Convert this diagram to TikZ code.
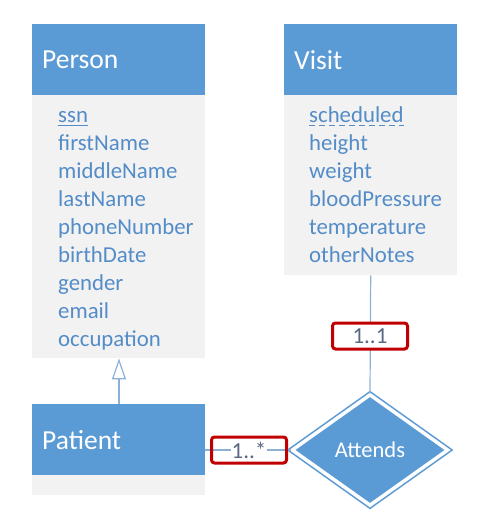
\documentclass[tikz,border=0pt]{standalone}
\usepackage{fontspec}
\setmainfont{Carlito}
\usetikzlibrary{arrows.meta,positioning,shapes.geometric}
\definecolor{hdrblue}{RGB}{91,155,213}
\definecolor{attrblue}{RGB}{84,140,200}
\definecolor{bodygray}{RGB}{242,242,242}
\definecolor{linkblue}{RGB}{140,176,214}
\definecolor{multred}{RGB}{192,0,0}
\definecolor{multtext}{RGB}{89,104,128}

\begin{document}
\begin{tikzpicture}[
  x=1pt, y=-1pt,
  hdr/.style={fill=hdrblue, text=white, font=\fontsize{27.5}{31}\selectfont,
              anchor=north west, minimum height=71pt, text width=153pt,
              inner xsep=10pt, align=left},
  body/.style={fill=bodygray, anchor=north west, minimum width=173pt},
  attr/.style={text=attrblue, font=\fontsize{22.8}{26}\selectfont,
               anchor=base west, inner sep=0pt},
  mult/.style={draw=multred, line width=3pt, rounded corners=3pt,
               minimum width=75pt, minimum height=26pt},
  multlbl/.style={text=multtext, font=\fontsize{23}{26}\selectfont, inner sep=1pt},
  link/.style={draw=linkblue, line width=1.2pt}]
\useasboundingbox (0,0) rectangle (480,522);

% classes
\node[hdr] (person) at (32,24) {Person};
\node[body, minimum height=263pt] (personbody) at (32,95) {};
\node[hdr] (visit) at (284,24) {Visit};
\node[body, minimum height=180pt] (visitbody) at (284,95) {};
\node[hdr] (patient) at (32,404) {Patient};
\node[body, minimum height=20pt] (patientbody) at (32,475) {};

% attributes
\foreach \name [count=\i] in {ssn,firstName,middleName,lastName,phoneNumber,
                               birthDate,gender,email,occupation}
  \node[attr] (pa-\i) at (58,122+28*\i-28) {\name};
\foreach \name [count=\i] in {scheduled,height,weight,bloodPressure,
                               temperature,otherNotes}
  \node[attr] (va-\i) at (309,122+28*\i-28) {\name};
\draw[attrblue, line width=1pt] ([yshift=-3pt]pa-1.base west) -- ([yshift=-3pt]pa-1.base east);
\draw[attrblue, line width=1pt, dash pattern=on 6pt off 4pt]
  ([yshift=-3pt]va-1.base west) -- ([yshift=-3pt]va-1.base east);

% relationship
\node[diamond, fill=hdrblue, draw=hdrblue, line width=1.6pt, double=white,
      double distance=3.5pt, minimum width=156pt, minimum height=111pt,
      text=white, font=\fontsize{22.5}{26}\selectfont] (attends) at (370,450) {Attends};

% connectors
\draw[link, -{Triangle[open, length=21pt, width=14pt]}]
  (patient.north -| 119,0) -- (personbody.south -| 119,0);
\draw[link] (visitbody.south) -- (attends.north);
\draw[link] (attends.west) -- (attends.west -| patient.east);

% multiplicities
\node[mult, fill=white] (m-visit) at (370,336) {};
\node[multlbl] at (m-visit) {1..1};
\node[mult] (m-patient) at (249,450) {};
\node[multlbl, fill=white] at (m-patient) {1..*};
\end{tikzpicture}
\end{document}
